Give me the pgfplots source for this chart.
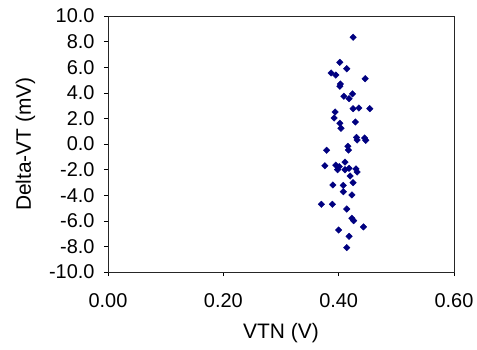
\documentclass[border=0pt]{standalone}
\usepackage{pgfplots}
\pgfplotsset{compat=1.18}
\usepackage{fontspec}
\setmainfont{Liberation Sans}
\usetikzlibrary{calc}
\definecolor{navyx}{RGB}{0,0,128}
\begin{document}
\begin{tikzpicture}
\begin{axis}[name=ax,
  scale only axis, width=346bp, height=256bp,
  xmin=0, xmax=0.6, ymin=-10, ymax=10,
  xtick={0,0.2,0.4,0.6}, xticklabels={0.00,0.20,0.40,0.60},
  ytick={-10,-8,...,10},
  yticklabels={-10.0,-8.0,-6.0,-4.0,-2.0,0.0,2.0,4.0,6.0,8.0,10.0},
  tick align=outside, major tick length=4bp,
  tick style={black, line width=0.6pt},
  axis line style={black!85, line width=0.7pt},
  xtick pos=bottom, ytick pos=left,
  ticklabel style={font=\fontsize{20}{24}\selectfont},
  label style={font=\fontsize{21}{25}\selectfont},
  xlabel={VTN (V)}, ylabel={Delta-VT (mV)},
  xticklabel shift=14bp, yticklabel shift=6bp,
  xlabel style={yshift=-9bp},
  ylabel style={yshift=7bp},
]
\addplot[only marks, mark=square*, mark size=2.3bp, mark options={rotate=45}, color=navyx] coordinates {
(0.425,8.34) (0.402,6.38) (0.414,5.88) (0.387,5.55) (0.395,5.39)
(0.446,5.10) (0.403,4.69) (0.402,4.51) (0.424,3.91) (0.409,3.73)
(0.418,3.54) (0.425,2.76) (0.435,2.81) (0.454,2.76) (0.394,2.50)
(0.392,2.03) (0.429,1.72) (0.402,1.62) (0.404,1.23) (0.431,0.52)
(0.432,0.31) (0.445,0.47) (0.447,0.29) (0.416,-0.18) (0.417,-0.47)
(0.379,-0.49) (0.411,-1.41) (0.376,-1.70) (0.395,-1.66) (0.401,-1.77)
(0.398,-2.01) (0.411,-2.01) (0.418,-1.90) (0.430,-1.95) (0.432,-2.19)
(0.420,-2.50) (0.425,-3.02) (0.390,-3.20) (0.408,-3.23) (0.408,-3.73)
(0.423,-3.98) (0.370,-4.71) (0.389,-4.71) (0.414,-5.08) (0.423,-5.80)
(0.426,-5.99) (0.443,-6.48) (0.400,-6.72) (0.418,-7.21) (0.414,-8.10)
};
\end{axis}
\path[use as bounding box] ($(ax.south west)+(-108bp,-78bp)$) rectangle ($(ax.north east)+(23bp,16bp)$);
\end{tikzpicture}
\end{document}
